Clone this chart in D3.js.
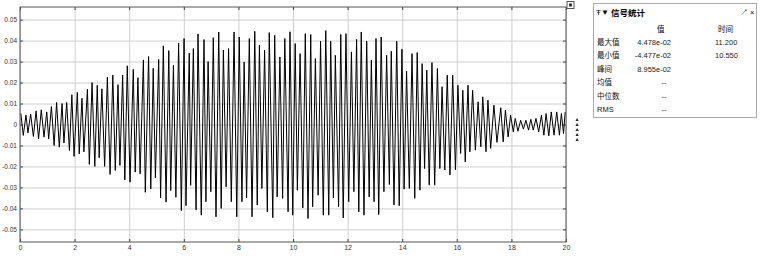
<!DOCTYPE html>
<html lang="zh">
<head>
<meta charset="UTF-8">
<title>信号统计</title>
<script src="https://d3js.org/d3.v7.min.js"></script>
<style>
  body { margin: 0; background: #fff; }
  svg { display: block; }
  .tick text { font-family: "Liberation Sans", Arial, sans-serif; fill: #333; }
  .cjk { font-family: "Noto Sans CJK SC", sans-serif; }
  .lat { font-family: "Liberation Sans", Arial, sans-serif; }
</style>
</head>
<body>
<svg width="768" height="257"></svg>
<script>
// positive peaks of the signal (s, value)
const peakTimes = [0.03,0.22,0.39,0.59,0.78,0.98,1.15,1.34,1.54,1.71,
  1.90,2.10,2.27,2.47,2.64,2.83,3.00,3.20,3.40,3.59,
  3.76,3.93,4.15,4.32,4.52,4.71,4.88,5.08,5.25,5.45,
  5.62,5.81,6.01,6.20,6.35,6.52,6.74,6.89,7.08,7.28,
  7.45,7.64,7.84,8.03,8.21,8.40,8.60,8.77,8.96,9.13,
  9.33,9.52,9.70,9.89,10.08,10.26,10.45,10.65,10.82,11.01,
  11.20,11.38,11.55,11.75,11.94,12.14,12.33,12.50,12.70,12.87,
  13.04,13.23,13.43,13.60,13.80,13.99,14.16,14.36,14.55,14.73,
  14.90,15.09,15.29,15.46,15.65,15.85,16.04,16.22,16.41,16.58,
  16.78,16.95,17.14,17.36,17.61,17.78,17.97,18.14,18.34,18.53,
  18.71,18.90,19.10,19.27,19.46,19.66,19.83,19.97];
const peakValues = [0.0053,0.0045,0.0050,0.0065,0.0070,0.0060,0.0085,0.0105,0.0100,0.0105,
  0.0142,0.0153,0.0125,0.0168,0.0200,0.0187,0.0170,0.0225,0.0236,0.0190,
  0.0236,0.0280,0.0263,0.0223,0.0308,0.0324,0.0268,0.0310,0.0375,0.0352,
  0.0282,0.0388,0.0410,0.0340,0.0362,0.0432,0.0405,0.0300,0.0414,0.0441,
  0.0355,0.0362,0.0441,0.0417,0.0298,0.0410,0.0444,0.0378,0.0354,0.0438,
  0.0425,0.0322,0.0410,0.0442,0.0386,0.0338,0.0433,0.0429,0.0314,0.0397,
  0.0448,0.0397,0.0330,0.0429,0.0433,0.0346,0.0406,0.0441,0.0397,0.0306,
  0.0410,0.0417,0.0330,0.0349,0.0397,0.0359,0.0254,0.0338,0.0343,0.0290,
  0.0259,0.0295,0.0267,0.0180,0.0235,0.0235,0.0187,0.0163,0.0187,0.0163,
  0.0108,0.0132,0.0116,0.0092,0.0080,0.0068,0.0044,0.0029,0.0020,0.0020,
  0.0025,0.0029,0.0044,0.0052,0.0060,0.0060,0.0052,0.0060];

// negative peaks
const troughTimes = [0.12,0.29,0.49,0.68,0.88,1.05,1.25,1.44,1.61,1.81,
  1.98,2.17,2.34,2.54,2.74,2.90,3.10,3.30,3.49,3.66,
  3.84,4.03,4.22,4.40,4.59,4.79,4.96,5.15,5.35,5.52,
  5.71,5.91,6.08,6.25,6.45,6.64,6.81,6.99,7.18,7.37,
  7.55,7.74,7.94,8.13,8.30,8.50,8.69,8.86,9.06,9.26,
  9.42,9.62,9.82,9.99,10.16,10.36,10.55,10.72,10.92,11.11,
  11.31,11.48,11.67,11.84,12.04,12.23,12.41,12.60,12.79,12.97,
  13.14,13.33,13.53,13.70,13.89,14.07,14.26,14.46,14.65,14.82,
  14.99,15.19,15.38,15.56,15.75,15.95,16.14,16.31,16.48,16.68,
  16.88,17.07,17.24,17.47,17.70,17.88,18.07,18.24,18.44,18.63,
  18.80,19.00,19.19,19.37,19.56,19.76,19.91];
const troughValues = [-0.0052,-0.0040,-0.0057,-0.0069,-0.0060,-0.0069,-0.0100,-0.0108,-0.0088,-0.0124,
  -0.0152,-0.0140,-0.0130,-0.0190,-0.0200,-0.0158,-0.0200,-0.0238,-0.0219,-0.0195,
  -0.0264,-0.0275,-0.0227,-0.0235,-0.0323,-0.0307,-0.0254,-0.0350,-0.0370,-0.0315,
  -0.0347,-0.0411,-0.0387,-0.0290,-0.0407,-0.0432,-0.0368,-0.0320,-0.0440,-0.0400,
  -0.0297,-0.0368,-0.0440,-0.0368,-0.0350,-0.0440,-0.0384,-0.0305,-0.0416,-0.0444,
  -0.0345,-0.0352,-0.0416,-0.0432,-0.0313,-0.0397,-0.0448,-0.0392,-0.0337,-0.0432,
  -0.0432,-0.0350,-0.0392,-0.0445,-0.0368,-0.0320,-0.0416,-0.0432,-0.0345,-0.0368,
  -0.0429,-0.0320,-0.0286,-0.0384,-0.0387,-0.0308,-0.0305,-0.0352,-0.0313,-0.0210,
  -0.0289,-0.0289,-0.0210,-0.0217,-0.0241,-0.0217,-0.0138,-0.0178,-0.0130,-0.0122,
  -0.0106,-0.0130,-0.0114,-0.0085,-0.0083,-0.0059,-0.0035,-0.0032,-0.0022,-0.0027,
  -0.0027,-0.0035,-0.0051,-0.0054,-0.0051,-0.0051,-0.0043];

const xTicks = [0, 2, 4, 6, 8, 10, 12, 14, 16, 18, 20];
const yTicks = [-0.05, -0.04, -0.03, -0.02, -0.01, 0, 0.01, 0.02, 0.03, 0.04, 0.05];

// stats panel
const statHeaders = ["值", "时间"];
const statLabels = ["最大值", "最小值", "峰间", "均值", "中位数", "RMS"];
const statValues = ["4.478e-02", "-4.477e-02", "8.955e-02", "--", "--", "--"];
const statTimes = ["11.200", "10.550", "", "", "", ""];

const svg = d3.select("svg");
const pLeft = 20, pRight = 566, pTop = 7, pBottom = 242;

const x = d3.scaleLinear().domain([0, 20]).range([pLeft, pRight]);
const y = d3.scaleLinear().domain([-0.056, 0.056]).range([pBottom, pTop]);

// grid
svg.append("g").attr("transform", `translate(0,${pBottom})`)
  .call(d3.axisBottom(x).tickValues(xTicks).tickSize(-(pBottom - pTop)).tickFormat(""))
  .call(g => g.select(".domain").remove())
  .call(g => g.selectAll("line").attr("stroke", "#cfcfcf"));
svg.append("g").attr("transform", `translate(${pLeft},0)`)
  .call(d3.axisLeft(y).tickValues(yTicks).tickSize(-(pRight - pLeft)).tickFormat(""))
  .call(g => g.select(".domain").remove())
  .call(g => g.selectAll("line").attr("stroke", "#cfcfcf"));

// small inward ticks on all four sides
const tk = 3;
svg.append("g").attr("transform", `translate(0,${pBottom})`)
  .call(d3.axisTop(x).tickValues(xTicks).tickSize(tk).tickFormat(""))
  .call(g => g.select(".domain").remove()).selectAll("line").attr("stroke", "#444");
svg.append("g").attr("transform", `translate(0,${pTop})`)
  .call(d3.axisBottom(x).tickValues(xTicks).tickSize(tk).tickFormat(""))
  .call(g => g.select(".domain").remove()).selectAll("line").attr("stroke", "#444");
svg.append("g").attr("transform", `translate(${pLeft},0)`)
  .call(d3.axisRight(y).tickValues(yTicks).tickSize(tk).tickFormat(""))
  .call(g => g.select(".domain").remove()).selectAll("line").attr("stroke", "#444");
svg.append("g").attr("transform", `translate(${pRight},0)`)
  .call(d3.axisLeft(y).tickValues(yTicks).tickSize(tk).tickFormat(""))
  .call(g => g.select(".domain").remove()).selectAll("line").attr("stroke", "#444");

// labels
svg.append("g").attr("transform", `translate(0,${pBottom})`)
  .call(d3.axisBottom(x).tickValues(xTicks).tickSize(0).tickPadding(3).tickFormat(d3.format("d")))
  .call(g => g.select(".domain").remove())
  .selectAll("text").attr("font-size", 7);
svg.append("g").attr("transform", `translate(${pLeft},0)`)
  .call(d3.axisLeft(y).tickValues(yTicks).tickSize(0).tickPadding(3)
    .tickFormat(d => d === 0 ? "0" : d.toFixed(2)))
  .call(g => g.select(".domain").remove())
  .selectAll("text").attr("font-size", 6.5);

// signal
const points = peakTimes.map((t, i) => [t, peakValues[i]])
  .concat(troughTimes.map((t, i) => [t, troughValues[i]]))
  .sort((a, b) => a[0] - b[0]);
svg.append("path")
  .datum(points)
  .attr("fill", "none")
  .attr("stroke", "#000")
  .attr("stroke-width", 1)
  .attr("d", d3.line().x(d => x(d[0])).y(d => y(d[1])));

// frame
svg.append("rect").attr("x", pLeft).attr("y", pTop)
  .attr("width", pRight - pLeft).attr("height", pBottom - pTop)
  .attr("fill", "none").attr("stroke", "#555");

// little icon top right and markers
svg.append("rect").attr("x", 567).attr("y", 1.5).attr("width", 7).attr("height", 7)
  .attr("fill", "#fff").attr("stroke", "#555");
svg.append("rect").attr("x", 569).attr("y", 3.5).attr("width", 3).attr("height", 3).attr("fill", "#333");
svg.selectAll(".mk").data([0, 1, 2, 3, 4]).enter().append("path")
  .attr("d", (d, i) => `M575.5,${121 + i * 5}l1.6,-3l1.6,3z`)
  .attr("fill", "#222");

// stats panel
const p = svg.append("g");
p.append("rect").attr("x", 593.5).attr("y", 3.5).attr("width", 163).attr("height", 114)
  .attr("fill", "#fff").attr("stroke", "#aaa");
p.append("text").attr("class", "lat").attr("x", 596).attr("y", 15).attr("font-size", 8).text("Ŧ▼");
p.append("text").attr("class", "cjk").attr("x", 611).attr("y", 15.5).attr("font-size", 8.5)
  .attr("font-weight", "bold").text("信号统计");
p.append("text").attr("class", "lat").attr("x", 740).attr("y", 15).attr("font-size", 7.5).text("↗ ×");
p.append("text").attr("class", "cjk").attr("x", 657).attr("y", 32).attr("font-size", 7.5).text(statHeaders[0]);
p.append("text").attr("class", "cjk").attr("x", 718).attr("y", 32).attr("font-size", 7.5).text(statHeaders[1]);
const rowY = d3.scaleLinear().domain([0, 5]).range([45, 112]);
statLabels.forEach((s, i) => {
  p.append("text").attr("class", s === "RMS" ? "lat" : "cjk").attr("x", 597).attr("y", rowY(i))
    .attr("font-size", 7.5).attr("fill", "#111").text(s);
  p.append("text").attr("class", "lat").attr("x", statValues[i] === "--" ? 664 : 671).attr("y", rowY(i))
    .attr("text-anchor", statValues[i] === "--" ? "middle" : "end")
    .attr("font-size", 7.5).attr("fill", "#222").text(statValues[i]);
  if (statTimes[i]) p.append("text").attr("class", "lat").attr("x", 715).attr("y", rowY(i))
    .attr("font-size", 7.5).attr("fill", "#222").text(statTimes[i]);
});
</script>
</body>
</html>
